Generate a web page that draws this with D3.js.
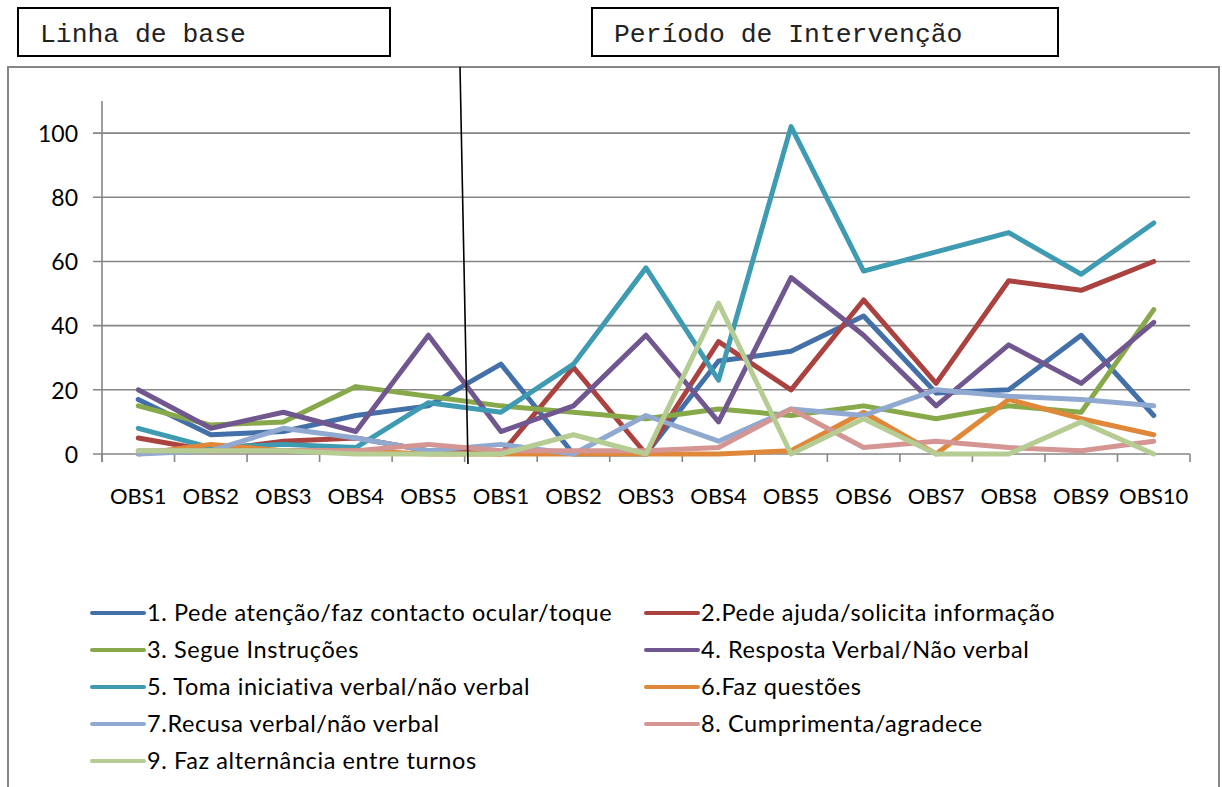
<!DOCTYPE html>
<html><head><meta charset="utf-8">
<script src="https://cdn.jsdelivr.net/npm/d3@7"></script>
<style>
html,body{margin:0;padding:0;background:#fff;}
svg{display:block;}
</style></head>
<body>
<svg id="c" width="1222" height="787"></svg>
<script>
const categories = ["OBS1","OBS2","OBS3","OBS4","OBS5","OBS1","OBS2","OBS3","OBS4","OBS5","OBS6","OBS7","OBS8","OBS9","OBS10"];
const yTicks = [0,20,40,60,80,100];
const phaseLabels = ["Linha de base","Período de Intervenção"];

const s1 = [17,6,7,12,15, 28,0,0,29,32,43,19,20,37,12];
const s2 = [5,1,4,5,1, 0,27,0,35,20,48,22,54,51,60];
const s3 = [15,9,10,21,18, 15,13,11,14,12,15,11,15,13,45];
const s4 = [20,8,13,7,37, 7,15,37,10,55,37,15,34,22,41];
const s5 = [8,2,3,2,16, 13,28,58,23,102,57,63,69,56,72];
const s6 = [0,3,1,1,0, 0,0,0,0,1,13,0,17,11,6];
const s7 = [0,1,8,5,1, 3,0,12,4,14,12,20,18,17,15];
const s8 = [1,1,1,1,3, 1,1,1,2,14,2,4,2,1,4];
const s9 = [1,1,1,0,0, 0,6,0,47,0,11,0,0,10,0];

const seriesNames = [
  "1. Pede atenção/faz contacto ocular/toque",
  "2.Pede ajuda/solicita informação",
  "3. Segue Instruções",
  "4. Resposta Verbal/Não verbal",
  "5. Toma iniciativa verbal/não verbal",
  "6.Faz questões",
  "7.Recusa verbal/não verbal",
  "8. Cumprimenta/agradece",
  "9. Faz alternância entre turnos"
];
const seriesValues = [s1,s2,s3,s4,s5,s6,s7,s8,s9];
const seriesColors = ["#4470A9","#AA4340","#87A94A","#71578F","#3E9BB2","#E0883A","#8FA9D1","#D49593","#B5CC93"];

const svg = d3.select("#c");
const font = "Lato, 'Open Sans', sans-serif";

// Phase header boxes
const boxes = [{x:18,w:372,tx:40},{x:592,w:466,tx:614}];
boxes.forEach((b,i)=>{
  svg.append("rect").attr("x",b.x).attr("y",8).attr("width",b.w).attr("height",48)
    .attr("fill","#fff").attr("stroke","#000").attr("stroke-width",2);
  svg.append("text").attr("x",b.tx).attr("y",42).text(phaseLabels[i])
    .attr("font-family","'Liberation Mono', 'Courier New', monospace").attr("font-size",26.4).attr("fill","#222");
});

// Chart border
svg.append("rect").attr("x",8).attr("y",67).attr("width",1211).attr("height",740)
  .attr("fill","none").attr("stroke","#868686").attr("stroke-width",2);

const x = d3.scaleBand().domain(d3.range(categories.length)).range([102,1190]);
const y = d3.scaleLinear().domain([0,110]).range([454,101]);
const cx = i => x(i) + x.bandwidth()/2;

// gridlines
svg.append("g").selectAll("line").data(yTicks).join("line")
  .attr("x1",93).attr("x2",1190).attr("y1",d=>y(d)).attr("y2",d=>y(d))
  .attr("stroke","#868686").attr("stroke-width",1.6);

// y axis labels
const yAxis = d3.axisLeft(y).tickValues(yTicks).tickSize(0).tickPadding(0);
const ga = svg.append("g").attr("transform","translate(78,0)").call(yAxis);
ga.select(".domain").remove();
ga.selectAll("text").attr("font-family",font).attr("font-size",23).attr("fill","#000").attr("dy","0.36em");

// y axis line
svg.append("line").attr("x1",102).attr("x2",102).attr("y1",101).attr("y2",462)
  .attr("stroke","#868686").attr("stroke-width",1.6);
// x axis ticks
svg.append("g").selectAll("line").data(d3.range(categories.length+1)).join("line")
  .attr("x1",d=>d<categories.length? x(d): x(categories.length-1)+x.bandwidth())
  .attr("x2",d=>d<categories.length? x(d): x(categories.length-1)+x.bandwidth())
  .attr("y1",454).attr("y2",462).attr("stroke","#868686").attr("stroke-width",1.6);
// x labels
svg.append("g").selectAll("text").data(categories).join("text")
  .attr("x",(d,i)=>cx(i)).attr("y",504).attr("text-anchor","middle")
  .attr("font-family",font).attr("font-size",22).attr("fill","#000").text(d=>d);

// series lines
const line = d3.line().x((d,i)=>cx(i)).y(d=>y(d));
svg.append("g").selectAll("path").data(seriesValues).join("path")
  .attr("d",d=>line(d)).attr("fill","none")
  .attr("stroke",(d,i)=>seriesColors[i]).attr("stroke-width",5)
  .attr("stroke-linejoin","round").attr("stroke-linecap","round");

// phase divider
svg.append("line").attr("x1",460).attr("y1",67).attr("x2",468).attr("y2",464)
  .attr("stroke","#000").attr("stroke-width",1.6);

// legend
const rowY = [613,650,687,724,761];
const leg = svg.append("g");
seriesNames.forEach((n,i)=>{
  const col = i%2, row = Math.floor(i/2);
  const lx = col===0 ? 90 : 644;
  const yy = rowY[row];
  leg.append("line").attr("x1",lx+2).attr("x2",lx+54).attr("y1",yy).attr("y2",yy)
    .attr("stroke",seriesColors[i]).attr("stroke-width",4).attr("stroke-linecap","round");
  leg.append("text").attr("x",lx+57).attr("y",yy+8).text(n)
    .attr("font-family",font).attr("font-size",23.5).attr("letter-spacing",0.6).attr("fill","#000");
});
</script>
</body></html>
